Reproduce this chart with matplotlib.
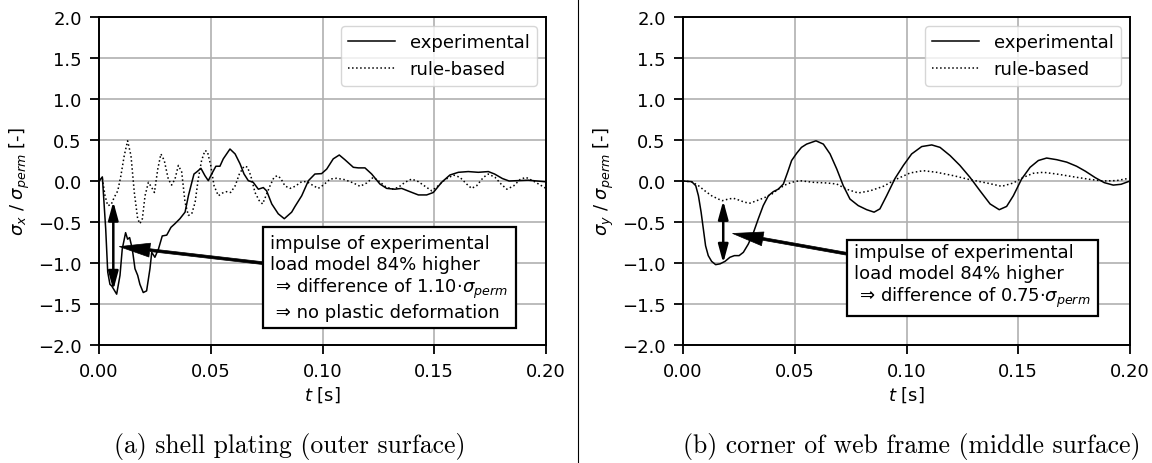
import matplotlib
matplotlib.use("Agg")
import matplotlib.pyplot as plt
from matplotlib.lines import Line2D

# (a) shell plating (outer surface)
t_exp_a = [0, 0.0015, 0.003, 0.0039, 0.0049, 0.0057, 0.0079, 0.0094, 0.0104, 0.0119,
           0.0128, 0.0137, 0.0149, 0.0161, 0.0173, 0.0183, 0.0198, 0.0213, 0.0228, 0.0236,
           0.025, 0.0266, 0.0283, 0.0303, 0.0322, 0.034, 0.0362, 0.0385, 0.040, 0.0415,
           0.0425, 0.0437, 0.0456, 0.0474, 0.0489, 0.0504, 0.0523, 0.0541, 0.0556, 0.0586,
           0.0609, 0.0631, 0.0649, 0.0668, 0.069, 0.0713, 0.0735, 0.075, 0.0773, 0.0802,
           0.0829, 0.0862, 0.0877, 0.0907, 0.0937, 0.0966, 0.0996, 0.1019, 0.1048, 0.1075,
           0.11, 0.1138, 0.116, 0.119, 0.122, 0.1257, 0.1287, 0.1324, 0.1354, 0.1391,
           0.1429, 0.1466, 0.1496, 0.1533, 0.157, 0.1608, 0.1652, 0.1697, 0.1742, 0.177,
           0.1805, 0.1835, 0.192, 0.2]
s_exp_a = [0, 0.05, -0.585, -1.11, -1.26, -1.28, -1.38, -1.15, -0.83, -0.63,
           -0.71, -0.69, -0.83, -1.07, -1.15, -1.26, -1.36, -1.34, -1.07, -0.87,
           -0.93, -0.83, -0.67, -0.66, -0.565, -0.52, -0.46, -0.38, -0.18, -0.02,
           0.085, 0.11, 0.155, 0.065, 0.004, 0.085, 0.18, 0.18, 0.27, 0.39,
           0.33, 0.21, 0.085, 0.004, -0.016, -0.10, -0.08, -0.12, -0.28, -0.40,
           -0.46, -0.38, -0.31, -0.18, 0.004, 0.085, 0.09, 0.146, 0.27, 0.317,
           0.26, 0.167, 0.16, 0.16, 0.085, -0.037, -0.09, -0.10, -0.09, -0.13,
           -0.17, -0.17, -0.14, -0.016, 0.073, 0.106, 0.115, 0.106, 0.115, 0.085,
           0.03, 0.0, 0.01, -0.01]

t_rule_a = [0, 0.0015, 0.0027, 0.0039, 0.0054, 0.0068, 0.0084, 0.0098, 0.0113, 0.0128,
            0.0143, 0.0158, 0.0173, 0.0183, 0.0194, 0.0206, 0.0221, 0.0236, 0.0248, 0.0263,
            0.0277, 0.0292, 0.031, 0.0325, 0.034, 0.0355, 0.037, 0.0385, 0.040, 0.0415,
            0.043, 0.0444, 0.0459, 0.0474, 0.0485, 0.050, 0.0515, 0.0534, 0.0553, 0.0571,
            0.0589, 0.0609, 0.0628, 0.0649, 0.0664, 0.0679, 0.0698, 0.0717, 0.0732, 0.0747,
            0.0765, 0.0783, 0.0798, 0.0813, 0.0832, 0.0855, 0.0877, 0.0907, 0.093, 0.0959,
            0.0981, 0.1004, 0.1034, 0.1063, 0.11, 0.1138, 0.1168, 0.1198, 0.1227, 0.125,
            0.128, 0.131, 0.1339, 0.1369, 0.1399, 0.1429, 0.1459, 0.1489, 0.1518, 0.1548,
            0.1586, 0.1615, 0.1645, 0.1667, 0.169, 0.172, 0.1742, 0.1772, 0.180, 0.1825,
            0.1855, 0.1885, 0.191, 0.195, 0.2]
s_rule_a = [0, 0.03, -0.18, -0.30, -0.29, -0.20, -0.12, 0.065, 0.31, 0.49,
            0.31, -0.14, -0.46, -0.52, -0.46, -0.18, -0.016, -0.08, -0.14, 0.146,
            0.33, 0.25, 0.024, -0.05, 0.024, 0.19, 0.11, -0.26, -0.42, -0.40,
            -0.26, 0.024, 0.25, 0.37, 0.36, 0.19, -0.06, -0.18, -0.146, -0.13,
            -0.14, -0.06, 0.085, 0.18, 0.17, 0.065, -0.14, -0.24, -0.28, -0.18,
            -0.06, 0.045, 0.065, 0.033, -0.06, -0.09, -0.065, -0.008, -0.008, -0.057,
            -0.09, -0.049, 0.024, 0.033, 0.016, -0.024, -0.065, -0.024, 0.045, 0.004,
            -0.065, -0.10, -0.078, -0.016, 0.024, -0.008, -0.065, -0.12, -0.057, 0.016,
            0.073, 0.045, -0.037, -0.09, -0.057, 0.045, 0.085, 0.045, -0.04, -0.10,
            -0.06, 0.02, 0.045, -0.01, -0.09]

# (b) corner of web frame (middle surface)
t_exp_b = [0, 0.0039, 0.0057, 0.0069, 0.0081, 0.0091, 0.0101, 0.0113, 0.0128, 0.0146,
           0.0166, 0.0188, 0.021, 0.023, 0.0251, 0.027, 0.0292, 0.0315, 0.0337, 0.0359,
           0.0382, 0.0404, 0.0426, 0.0449, 0.0468, 0.0486, 0.0509, 0.053, 0.0553, 0.0595,
           0.0628, 0.0658, 0.0688, 0.0717, 0.0747, 0.0784, 0.0822, 0.0855, 0.0881, 0.0911,
           0.0949, 0.0986, 0.1023, 0.1068, 0.1113, 0.115, 0.1195, 0.1239, 0.1284, 0.1329,
           0.1374, 0.1415, 0.1448, 0.1478, 0.1515, 0.1553, 0.159, 0.1627, 0.1672, 0.1717,
           0.1761, 0.180, 0.1845, 0.1885, 0.1925, 0.196, 0.2]
s_exp_b = [0, -0.008, -0.057, -0.18, -0.38, -0.585, -0.79, -0.91, -0.98, -1.02,
           -1.01, -0.98, -0.93, -0.91, -0.91, -0.87, -0.77, -0.63, -0.46, -0.30,
           -0.18, -0.13, -0.10, -0.037, 0.106, 0.25, 0.34, 0.41, 0.45, 0.49,
           0.45, 0.33, 0.146, -0.057, -0.22, -0.30, -0.35, -0.38, -0.34, -0.18,
           0.033, 0.19, 0.33, 0.42, 0.44, 0.41, 0.31, 0.19, 0.045, -0.12,
           -0.28, -0.35, -0.31, -0.18, 0.024, 0.167, 0.25, 0.28, 0.26, 0.23,
           0.18, 0.12, 0.04, -0.02, -0.05, -0.04, 0.0]

t_rule_b = [0, 0.0039, 0.0069, 0.0098, 0.0128, 0.0158, 0.0176, 0.0203, 0.0225, 0.0247,
            0.0277, 0.030, 0.033, 0.0367, 0.0397, 0.0426, 0.0456, 0.0486, 0.0523, 0.0583,
            0.0643, 0.0688, 0.0732, 0.0784, 0.0837, 0.0896, 0.0956, 0.1016, 0.1075, 0.1135,
            0.121, 0.1284, 0.1359, 0.1426, 0.1478, 0.1523, 0.1567, 0.1612, 0.1672, 0.1761,
            0.182, 0.188, 0.194, 0.2]
s_rule_b = [0, -0.01, -0.057, -0.12, -0.18, -0.22, -0.24, -0.22, -0.21, -0.23,
            -0.26, -0.27, -0.24, -0.20, -0.16, -0.10, -0.049, -0.016, 0.004, -0.016,
            -0.024, -0.037, -0.10, -0.146, -0.12, -0.065, 0.024, 0.098, 0.126, 0.106,
            0.065, 0.016, -0.024, -0.065, -0.024, 0.045, 0.094, 0.106, 0.085, 0.045,
            0.02, 0.0, 0.005, 0.035]

ylabels = [r"$\sigma_x$ / $\sigma_{perm}$ [-]", r"$\sigma_y$ / $\sigma_{perm}$ [-]"]
captions = ["(a) shell plating (outer surface)", "(b) corner of web frame (middle surface)"]
notes = ["impulse of experimental\nload model 84% higher\n \u21d2 difference of 1.10$\\cdot\\sigma_{perm}$\n \u21d2 no plastic deformation",
         "impulse of experimental\nload model 84% higher\n \u21d2 difference of 0.75$\\cdot\\sigma_{perm}$"]
diff_t = [0.0064, 0.018]
diff_lo = [-1.33, -1.0]
diff_hi = [-0.25, -0.24]
tip_pts = [(0.0091, -0.80), (0.0222, -0.64)]
note_pos = [(0.0767, -0.649), (0.0765, -0.756)]

plt.rcParams["font.size"] = 13

fig = plt.figure(figsize=(11.52, 4.64), dpi=100)
ax_a = fig.add_axes([99 / 1152, 118 / 464, 447 / 1152, 328 / 464])
ax_b = fig.add_axes([683 / 1152, 118 / 464, 447 / 1152, 328 / 464])

series = [(t_exp_a, s_exp_a, t_rule_a, s_rule_a), (t_exp_b, s_exp_b, t_rule_b, s_rule_b)]

for i, ax in enumerate([ax_a, ax_b]):
    te, se, tr, sr = series[i]
    ax.plot(te, se, color="k", lw=1.1, label="experimental")
    ax.plot(tr, sr, color="k", lw=1.1, ls=":", label="rule-based")
    ax.set_xlim(0, 0.2)
    ax.set_ylim(-2.0, 2.0)
    ax.set_xticks([0, 0.05, 0.1, 0.15, 0.2])
    ax.set_yticks([-2.0, -1.5, -1.0, -0.5, 0.0, 0.5, 1.0, 1.5, 2.0])
    ax.grid(True, color="#b0b0b0", lw=1.2)
    ax.set_axisbelow(True)
    for sp in ax.spines.values():
        sp.set_linewidth(1.4)
    ax.tick_params(length=6.5, width=1.3, pad=6, labelsize=13)
    ax.set_xlabel(r"$t$ [s]", fontsize=13, labelpad=3)
    ax.set_ylabel(ylabels[i], fontsize=13, labelpad=4)
    ax.legend(loc="upper right", fontsize=13, handlelength=2.6)

    # difference arrow
    ax.annotate("", xy=(diff_t[i], diff_lo[i]), xytext=(diff_t[i], diff_hi[i]),
                arrowprops=dict(arrowstyle="<|-|>,head_length=1.1,head_width=0.3",
                                mutation_scale=10, lw=1.8, color="k",
                                shrinkA=0, shrinkB=0))
    # note box with arrow
    ax.annotate(notes[i], xy=tip_pts[i], xytext=note_pos[i], ha="left", va="top",
                fontsize=13,
                bbox=dict(boxstyle="square,pad=0.4", fc="white", ec="k", lw=1.6),
                arrowprops=dict(arrowstyle="simple,head_length=2.2,head_width=1.0,tail_width=0.2",
                                mutation_scale=10, fc="k", ec="k", lw=0.5,
                                shrinkA=0, shrinkB=0))

fig.text(290 / 1152, 1 - 447 / 464, captions[0], family="cmr10", fontsize=18.5,
         ha="center", va="center")
fig.text(912 / 1152, 1 - 447 / 464, captions[1], family="cmr10", fontsize=18.5,
         ha="center", va="center")
fig.add_artist(Line2D([578 / 1152, 578 / 1152], [0, 1], transform=fig.transFigure,
                      color="k", lw=0.8))

fig.savefig("out.png", dpi=100)
